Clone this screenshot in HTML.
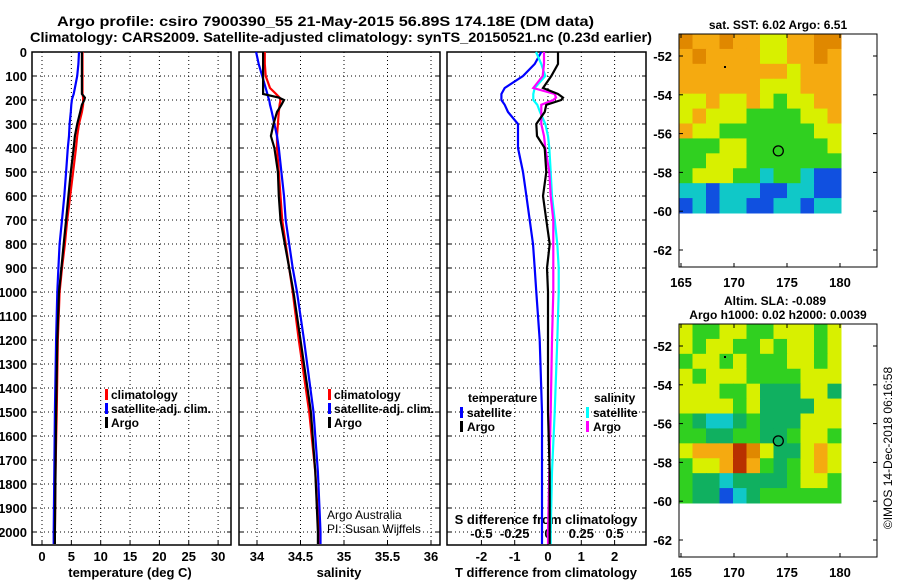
<!DOCTYPE html>
<html><head><meta charset="utf-8">
<style>
html,body{margin:0;padding:0;background:#fff;}
svg{display:block;font-family:"Liberation Sans",sans-serif;font-weight:bold;}
</style></head>
<body>
<svg id="chart" width="900" height="580" viewBox="0 0 900 580" xmlns="http://www.w3.org/2000/svg">
<text x="57" y="26" font-size="14" textLength="537" lengthAdjust="spacingAndGlyphs">Argo profile: csiro 7900390_55 21-May-2015 56.89S 174.18E (DM data)</text>
<text x="30" y="42" font-size="14" textLength="622" lengthAdjust="spacingAndGlyphs">Climatology: CARS2009. Satellite-adjusted climatology: synTS_20150521.nc (0.23d earlier)</text>
<g id="g"></g>
</svg>
<script>
const depths=[0,50,100,150,175,190,200,220,250,300,350,400,500,600,700,800,900,1000,1200,1500,1750,2000,2050];
const tempArgo=[6.8,6.8,6.8,6.8,6.8,7.3,7.2,6.8,6.5,6.0,5.6,5.4,4.9,4.5,4.1,3.7,3.3,2.9,2.6,2.4,2.3,2.2,2.2];
const tempClim=[6.9,6.9,6.9,6.9,6.9,7.0,7.0,7.0,6.8,6.3,6.0,5.8,5.3,4.8,4.3,3.9,3.4,3.0,2.7,2.5,2.3,2.2,2.2];
const tempSat=[6.3,6.2,6.0,5.6,5.4,5.2,5.1,5.0,4.9,4.7,4.6,4.4,4.1,3.8,3.4,3.0,2.8,2.6,2.4,2.2,2.1,2.0,2.0];
const salArgo=[34.07,34.07,34.07,34.07,34.07,34.25,34.31,34.28,34.23,34.19,34.16,34.20,34.24,34.25,34.27,34.32,34.37,34.42,34.50,34.62,34.67,34.70,34.70];
const salClim=[34.09,34.09,34.10,34.15,34.22,34.26,34.27,34.26,34.25,34.24,34.23,34.23,34.25,34.27,34.29,34.33,34.37,34.41,34.48,34.60,34.67,34.71,34.72];
const salSat=[33.99,34.02,34.06,34.10,34.12,34.13,34.14,34.15,34.17,34.20,34.23,34.25,34.28,34.31,34.33,34.37,34.41,34.46,34.54,34.65,34.70,34.73,34.73];
const tDiffArgo=[0.3,0.3,0.1,-0.15,0.3,0.45,0.4,-0.05,-0.1,-0.35,-0.33,-0.1,-0.05,-0.15,-0.05,0.05,-0.03,0,0,0,0.05,0.05,0.05];
const tDiffSat=[-0.2,-0.4,-0.75,-1.3,-1.4,-1.4,-1.4,-1.3,-1.2,-0.9,-0.9,-0.9,-0.75,-0.65,-0.55,-0.45,-0.4,-0.35,-0.25,-0.18,-0.18,-0.18,-0.18];
const sDiffArgo=[-0.03,-0.03,-0.04,-0.11,0.05,0.06,0.04,-0.05,-0.05,-0.05,-0.03,-0.02,0.01,0.02,0.04,0.04,0.04,0.04,0.03,0.02,0.01,0,0];
const sDiffSat=[-0.09,-0.05,-0.02,-0.1,-0.11,-0.11,-0.11,-0.08,-0.06,-0.02,0,0.01,0.02,0.03,0.05,0.07,0.08,0.08,0.07,0.05,0.03,0.02,0.02];
const depthTicks=[0,100,200,300,400,500,600,700,800,900,1000,1100,1200,1300,1400,1500,1600,1700,1800,1900,2000];
const tempTicks=[0,5,10,15,20,25,30];
const salTicks=[34,34.5,35,35.5,36];
const tDiffTicks=[-2,-1,0,1,2];
const sDiffTicks=[-0.5,-0.25,0,0.25,0.5];
const sDiffTickLabels=["-0.5","-0.25","0","0.25","0.5"];
const lonTicks=[165,170,175,180];
const latTicks=[-52,-54,-56,-58,-60,-62];
const sstRows=["OooOooyyooOO","oOooooyyooOo","ooooooooyooo","ooooooyyyooo","yyoyyoygyyoo","yoyyyggggyyo","oyygggggggyy","gggyyggggggy","ggyyygggggggg","gyyyggcggcbb","ccbcccbbccbb","bcbccbbccbcc"];
const slaRows=["yggyyggyyygy","ygyyggygyygy","gyygygggyygy","ygyyygggg yyg","yyyggyGGGyyG","yyyygyGGGGyy","gGccGgGGGyyy","ggGGggGGgyyg","yooorOyGGyoy","gyyorogGgyoy","gGGcGGGGgyyg","gGGbcGggggggg"];
const pal={O:"#e08800",o:"#f5aa10",Y:"#f0f000",y:"#d8f000",g:"#30d020",G:"#10b060",c:"#10c8c8",b:"#1050e0",r:"#b83000"," ":"#d8f000"};

const NS="http://www.w3.org/2000/svg";
const g=document.getElementById('g');
function el(t,a,p){const e=document.createElementNS(NS,t);for(const k in a)e.setAttribute(k,a[k]);(p||g).appendChild(e);return e;}
function txt(x,y,s,sz,anch,p){const e=el('text',{x:x,y:y,'font-size':sz,'text-anchor':anch||'middle'},p);e.textContent=s;return e;}
const Y0=52,Y1=545;
const yD=d=>Y0+d*0.24;

function panel(name,x0,x1,xf,xt,xl,line){
  const grp=el('g',{});
  
  
  depthTicks.forEach(d=>{ if(d>0) el('line',{x1:x0,x2:x1,y1:yD(d),y2:yD(d),stroke:'#000','stroke-width':1,'stroke-dasharray':'1,3'},grp);
    el('line',{x1:x0,x2:x0+4,y1:yD(d),y2:yD(d),stroke:'#000'},grp);
    el('line',{x1:x1-4,x2:x1,y1:yD(d),y2:yD(d),stroke:'#000'},grp);});
  xt.forEach((v,i)=>{const x=xf(v);
    el('line',{x1:x,x2:x,y1:Y0,y2:Y1,stroke:'#000','stroke-dasharray':'1,3'},grp);
    el('line',{x1:x,x2:x,y1:Y1-4,y2:Y1,stroke:'#000'},grp);
    const t=txt(x,561,xl?xl[i]:String(v),13,'middle',grp);
    
    
  });
  el('rect',{x:x0,y:Y0,width:x1-x0,height:Y1-Y0,fill:'none',stroke:'#000','stroke-width':1.5},grp);
  return grp;
}
function series(grp,vals,xf,color,name,w){
  const pts=vals.map((v,i)=>xf(v).toFixed(1)+','+yD(depths[i]).toFixed(1)).join(' ');
  const p=el('polyline',{points:pts,fill:'none',stroke:color,'stroke-width':w||2.2},grp);
  
  
}
const xT=v=>42+v*5.87;
const p1=panel('temperature-panel',32,231,xT,tempTicks);
depthTicks.forEach(d=>{const t=txt(27,yD(d)+5,String(d),13,'end',p1);
  
  });
series(p1,tempClim,xT,'#ff0000','temp-climatology-line');
series(p1,tempSat,xT,'#0000ff','temp-satellite-line');
series(p1,tempArgo,xT,'#000000','temp-argo-line');
let t=txt(130,577,'temperature (deg C)',13,'middle',p1);


function legend(grp,x,items,prefix){
  items.forEach((it,i)=>{const y=398+i*14;
    el('rect',{x:x,y:y-9,width:3,height:11,fill:it[1]},grp);
    const tt=txt(x+6,y+1,it[0],12,'start',grp);
    
    });
}
legend(p1,105,[['climatology','#ff0000'],['satellite-adj. clim.','#0000ff'],['Argo','#000']],'temp');
const xS=v=>257+(v-34)*87;
const p2=panel('salinity-panel',239,440,xS,salTicks);
series(p2,salClim,xS,'#ff0000','sal-climatology-line');
series(p2,salSat,xS,'#0000ff','sal-satellite-line');
series(p2,salArgo,xS,'#000000','sal-argo-line');
t=txt(339,577,'salinity',13,'middle',p2);


legend(p2,328,[['climatology','#ff0000'],['satellite-adj. clim.','#0000ff'],['Argo','#000']],'sal');
t=txt(327,519,'Argo Australia',12,'start',p2);t.setAttribute('font-weight','normal');


t=txt(327,533,'PI: Susan Wijffels',12,'start',p2);t.setAttribute('font-weight','normal');


const xD=v=>548+v*33.3;
const xDS=v=>548+v*133.2;
const p3=panel('difference-panel',447,646,xD,tDiffTicks);
sDiffTicks.forEach((v,i)=>{const tt=txt(xDS(v),538,sDiffTickLabels[i],13,'middle',p3);
  
  });
t=txt(546,524,'S difference from climatology',13,'middle',p3);


series(p3,tDiffSat,xD,'#0000ff','t-diff-satellite-line');
series(p3,sDiffSat,xDS,'#00ffff','s-diff-satellite-line');
series(p3,sDiffArgo,xDS,'#ff00ff','s-diff-argo-line');
series(p3,tDiffArgo,xD,'#000000','t-diff-argo-line');
t=txt(546,577,'T difference from climatology',13,'middle',p3);


t=txt(468,402,'temperature',12,'start',p3);


t=txt(594,402,'salinity',12,'start',p3);


[['satellite','#0000ff'],['Argo','#000']].forEach((it,i)=>{const y=416+i*14;
  el('rect',{x:460,y:y-9,width:3,height:11,fill:it[1]},p3);
  const tt=txt(467,y+1,it[0],12,'start',p3);
  
  });
[['satellite','#00ffff'],['Argo','#ff00ff']].forEach((it,i)=>{const y=416+i*14;
  el('rect',{x:586,y:y-9,width:3,height:11,fill:it[1]},p3);
  const tt=txt(593,y+1,it[0],12,'start',p3);
  
  });
function map(name,top,rows,titles){
  const grp=el('g',{});
  
  
  const x0=679,x1=877,w=162,h=179,bot=top+233;
  const cw=w/12,ch=h/rows.length;
  rows.forEach((r,ri)=>{for(let ci=0;ci<12;ci++){const c=r[ci]||'y';
    const cell=el('rect',{x:(x0+ci*cw).toFixed(2),y:(top+ri*ch).toFixed(2),width:(cw+0.5).toFixed(2),height:(ch+0.5).toFixed(2),fill:pal[c]||'#d8f000'},grp);
    
    }});
  el('rect',{x:x0,y:top,width:x1-x0,height:bot-top,fill:'none',stroke:'#000','stroke-width':1},grp);
  const lonX=v=>681+(v-165)*10.6;
  const latY=v=>top+22+(-52-v)*19.4;
  lonTicks.forEach(v=>{el('line',{x1:lonX(v),x2:lonX(v),y1:top,y2:top+4,stroke:'#000'},grp);
    el('line',{x1:lonX(v),x2:lonX(v),y1:bot-4,y2:bot,stroke:'#000'},grp);
    const tt=txt(lonX(v),bot+20,String(v),13,'middle',grp);
    
    });
  latTicks.forEach(v=>{el('line',{x1:x0,x2:x0+4,y1:latY(v),y2:latY(v),stroke:'#000'},grp);
    el('line',{x1:x1-4,x2:x1,y1:latY(v),y2:latY(v),stroke:'#000'},grp);
    const tt=txt(672,latY(v)+5,String(v),13,'end',grp);
    
    });
  const c=el('circle',{cx:lonX(174.18),cy:latY(-56.89),r:5,fill:'none',stroke:'#000','stroke-width':1.3},grp);
  
  
  el('rect',{x:724,y:top+32,width:2,height:2,fill:'#000'},grp);
  titles.forEach((s,i)=>{const tt=txt(778-(titles.length>1&&i==0?3:0),top-14*(titles.length-i)+9,s,12,'middle',grp);
    
    });
}
map('sst-map',34,sstRows,['sat. SST: 6.02 Argo: 6.51']);
map('sla-map',324,slaRows,['Altim. SLA: -0.089','Argo h1000: 0.02 h2000: 0.0039']);
t=el('text',{x:0,y:0,'font-size':12,'text-anchor':'middle','font-weight':'normal',transform:'translate(892,448) rotate(-90)'});
t.textContent='©IMOS 14-Dec-2018 06:16:58';


</script>
</body></html>
